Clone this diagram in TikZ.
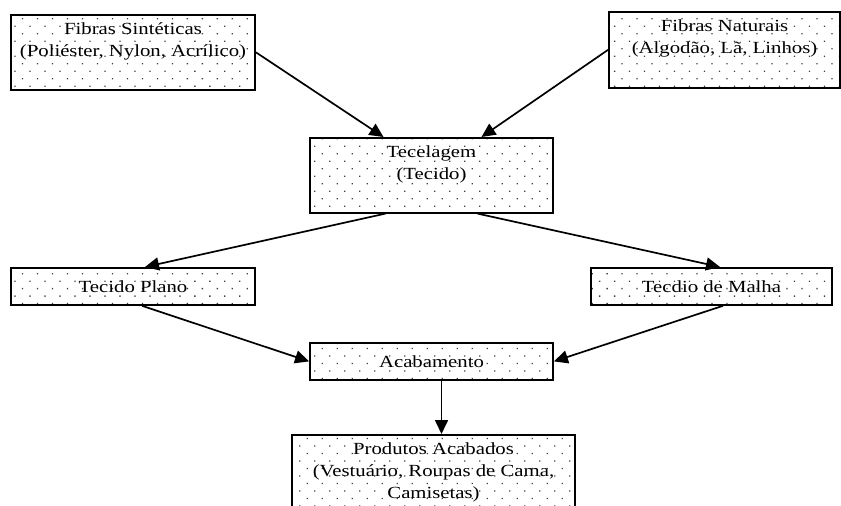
\documentclass[tikz,border=0pt]{standalone}
\usepackage{fontspec}
\setmainfont{Liberation Serif}[FakeStretch=1.22]
\usetikzlibrary{arrows.meta,patterns.meta}
\tikzset{
  caixa/.style={draw,line width=1.8pt,anchor=north,align=center,
    pattern={Dots[distance=10.6pt,angle=45,radius=0.9pt]},pattern color=black!75,
    font=\fontsize{17}{22}\selectfont,inner xsep=2pt,inner ysep=8pt},
  umalinha/.style={caixa,minimum height=37pt},
  seta/.style={line width=1.7pt,-{Triangle[length=14pt,width=13pt]}}
}
\begin{document}
\begin{tikzpicture}[x=1pt,y=-1pt]
	    \useasboundingbox (0,0) rectangle (841,506);
	    % materias-primas
	    \node[caixa,minimum width=244pt,text depth=25pt] (sint) at (133,14) {Fibras Sintéticas\\(Poliéster, Nylon, Acrílico)};
	    \node[caixa,minimum width=231pt,text depth=26pt] (nat) at (724.5,11) {Fibras Naturais\\(Algodão, Lã, Linhos)};
	    \node[caixa,minimum width=243pt,text depth=25pt] (tec) at (431.5,137) {Tecelagem\\(Tecido)};
	    % tipos de tecido
	    \node[umalinha,minimum width=244pt] (plano) at (133,267) {Tecido Plano};
	    \node[umalinha,minimum width=241pt] (malha) at (711.5,267) {Tecdio de Malha};
	    \node[umalinha,minimum width=243pt] (acab) at (431.5,342) {Acabamento};
	    \node[caixa,minimum width=283pt,text depth=20pt] (prod) at (433.5,434) {Produtos Acabados\\(Vestuário, Roupas de Cama,\\Camisetas)};
	    % setas
	    \draw[seta] (sint.east) -- ([xshift=-48pt]tec.north);
	    \draw[seta] (nat.west) -- ([xshift=50pt]tec.north);
	    \draw[seta] ([xshift=-46pt]tec.south) -- ([xshift=12pt]plano.north);
	    \draw[seta] ([xshift=46pt]tec.south) -- ([xshift=8.5pt]malha.north);
	    \draw[seta] ([xshift=9pt]plano.south) -- (acab.west);
	    \draw[seta] ([xshift=11.5pt]malha.south) -- (acab.east);
	    \draw[seta] ([xshift=10pt]acab.south) -- ([xshift=10pt]acab.south |- prod.north);
	\end{tikzpicture}
\end{document}
